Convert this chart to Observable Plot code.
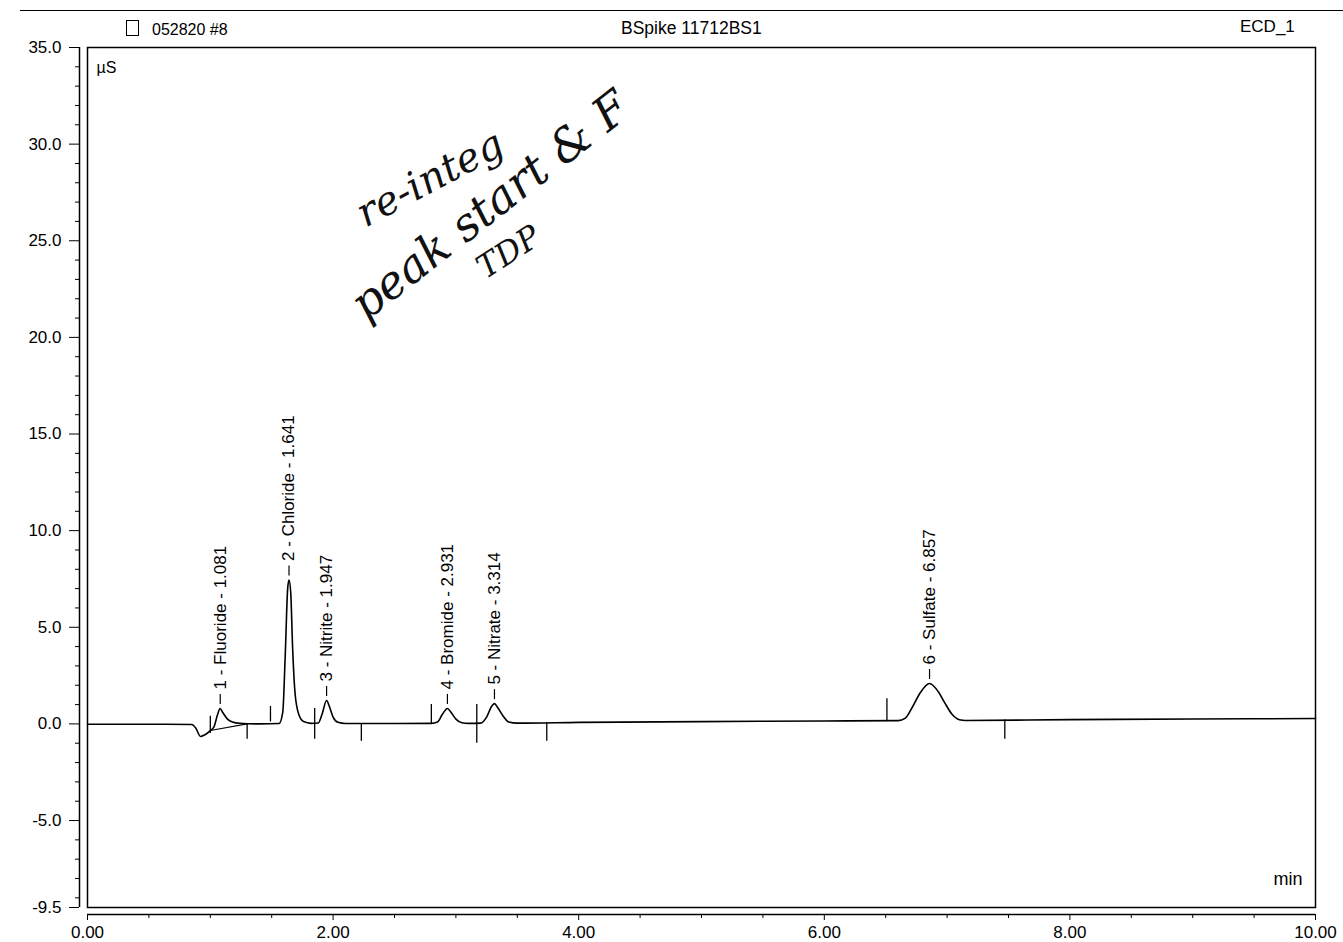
<!DOCTYPE html>
<html>
<head>
<meta charset="utf-8">
<script src="https://cdn.jsdelivr.net/npm/d3@7"></script>
<script src="https://cdn.jsdelivr.net/npm/@observablehq/plot@0.6"></script>
<style>
  html, body { margin: 0; padding: 0; background: #fff; }
  #wrap { position: relative; width: 1343px; height: 942px; overflow: hidden; font-family: "Liberation Sans", Arial, sans-serif; }
  #wrap svg { overflow: visible; display: block; }
  .hdr { position: absolute; font-size: 17px; color: #000; white-space: nowrap; line-height: 1; }
</style>
</head>
<body>
<div id="wrap">
  <div id="chart"></div>
  <div style="position:absolute;left:20px;right:0;top:10px;border-top:1.5px solid #000;"></div>
  <div style="position:absolute;left:126px;top:20px;width:11px;height:14px;border:1px solid #000;"></div>
  <div class="hdr" style="left:152px;top:22px;font-size:16px;">052820 #8</div>
  <div class="hdr" style="left:621px;top:20px;font-size:17.5px;">BSpike 11712BS1</div>
  <div class="hdr" style="left:1240px;top:18px;">ECD_1</div>
</div>
<script>
// ---- data ----
const traceTime  = [0.00, 0.50, 0.85, 0.88, 0.92, 0.96, 1.00, 1.03, 1.06, 1.08, 1.10, 1.14, 1.18, 1.24, 1.40,
                    1.56, 1.59, 1.61, 1.63, 1.641, 1.655, 1.67, 1.69, 1.72, 1.76, 1.82,
                    1.88, 1.91, 1.947, 1.97, 2.00, 2.04, 2.10,
                    2.80, 2.85, 2.89, 2.931, 2.96, 3.00, 3.05, 3.10,
                    3.20, 3.25, 3.29, 3.314, 3.34, 3.38, 3.43, 3.50,
                    4.00, 5.00, 6.00, 6.60, 6.66, 6.72, 6.78, 6.857, 6.93, 6.98, 7.04, 7.10, 7.15,
                    8.00, 9.00, 10.00];
const traceValue = [-0.02, -0.02, -0.03, -0.20, -0.65, -0.55, -0.35, -0.15, 0.50, 0.80, 0.60, 0.25, 0.10, 0.03, 0.00,
                    0.02, 0.60, 3.50, 7.00, 7.45, 6.80, 4.00, 1.60, 0.50, 0.12, 0.03,
                    0.05, 0.50, 1.21, 0.90, 0.35, 0.08, 0.02,
                    0.03, 0.10, 0.50, 0.80, 0.60, 0.25, 0.06, 0.03,
                    0.04, 0.35, 0.90, 1.05, 0.85, 0.45, 0.10, 0.04,
                    0.08, 0.12, 0.15, 0.17, 0.30, 0.90, 1.60, 2.09, 1.65, 1.10, 0.50, 0.22, 0.18,
                    0.22, 0.25, 0.28];

// fluoride drop-line integration baseline
const integTime  = [1.00, 1.30];
const integValue = [-0.34, 0.00];

// peak delimiter marks (time, low, high)
const delimTime = [1.00, 1.30, 1.49, 1.85, 2.23, 2.80, 3.17, 3.74, 6.51, 7.47];
const delimLow  = [-0.50, -0.80, 0.10, -0.80, -0.90, 0.00, -1.00, -0.90, 0.15, -0.80];
const delimHigh = [0.40, 0.00, 0.90, 0.80, 0.00, 1.00, 1.00, 0.05, 1.30, 0.20];

// peaks
const peakNum    = [1, 2, 3, 4, 5, 6];
const peakName   = ["Fluoride", "Chloride", "Nitrite", "Bromide", "Nitrate", "Sulfate"];
const peakTime   = [1.081, 1.641, 1.947, 2.931, 3.314, 6.857];
const peakHeight = [0.80, 7.45, 1.21, 0.80, 1.05, 2.09];

// handwritten note
const noteText   = ["re-integ", "peak start & F", "TDP"];
const noteTime   = [2.79, 3.28, 3.43];
const noteValue  = [28.2, 26.8, 24.4];
const noteAngle  = [-28, -38, -33];
const noteSize   = [40, 46, 32];

// axes
const xTicks = [0, 2, 4, 6, 8, 10];
const xMinor = [0.5, 1, 1.5, 2.5, 3, 3.5, 4.5, 5, 5.5, 6.5, 7, 7.5, 8.5, 9, 9.5];
const yTicks = [35, 30, 25, 20, 15, 10, 5, 0, -5, -9.5];
const yMinor = d3.range(-9, 35, 1).filter(d => d % 5 !== 0);

// ---- tables ----
const trace = traceTime.map((t, i) => ({t, v: traceValue[i]}));
const integ = integTime.map((t, i) => ({t, v: integValue[i]}));
const delims = delimTime.map((t, i) => ({t, lo: delimLow[i], hi: delimHigh[i]}));
const peaks = peakNum.map((n, i) => ({
  t: peakTime[i], h: peakHeight[i],
  label: `${n} - ${peakName[i]} - ${peakTime[i].toFixed(3)}`
}));
const notes = noteText.map((s, i) => ({s, t: noteTime[i], v: noteValue[i], a: noteAngle[i], f: noteSize[i]}));

const chart = Plot.plot({
  width: 1343,
  height: 942,
  marginLeft: 87,
  marginRight: 28,
  marginTop: 47,
  marginBottom: 35,
  style: {fontFamily: "'Liberation Sans', Arial, sans-serif", color: "#000", background: "#fff"},
  x: {domain: [0, 10]},
  y: {domain: [-9.5, 35]},
  marks: [
    Plot.frame({stroke: "#000", strokeWidth: 1.5}),
    // offset axis lines
    Plot.ruleY([-9.5], {dy: 7, stroke: "#000", strokeWidth: 1.5}),
    Plot.ruleX([0], {dx: -8, stroke: "#000", strokeWidth: 1.5}),
    // minor ticks
    Plot.ruleX(xMinor, {x: d => d, y1: -9.5, y2: -9.5, dy: 7, insetBottom: -4, stroke: "#000"}),
    Plot.ruleY(yMinor, {y: d => d, x1: 0, x2: 0, dx: -8, insetLeft: -4, stroke: "#000"}),
    // x axis
    Plot.axisX(xTicks, {anchor: "bottom", dy: 7, tickSize: 6, tickPadding: 5, fontSize: 17,
      tickFormat: d => d.toFixed(2), label: null, stroke: "#000"}),
    // y axis
    Plot.axisY(yTicks, {anchor: "left", dx: -8, tickSize: 10, tickPadding: 8, fontSize: 17,
      tickFormat: d => d.toFixed(1), label: null, stroke: "#000"}),
    // unit labels
    Plot.text(["µS"], {frameAnchor: "top-left", dx: 9, dy: 14, fontSize: 16, fill: "#000"}),
    Plot.text(["min"], {frameAnchor: "bottom-right", dx: -13, dy: -23, fontSize: 18, fill: "#000"}),
    // handwritten note
    Plot.text(notes, {x: "t", y: "v", text: "s", rotate: "a", fontSize: "f", fontStyle: "italic",
      fontFamily: "'DejaVu Serif', serif", fill: "#111"}),
    // integration baseline + delimiters
    Plot.line(integ, {x: "t", y: "v", stroke: "#000", strokeWidth: 1.2}),
    Plot.ruleX(delims, {x: "t", y1: "lo", y2: "hi", stroke: "#000", strokeWidth: 1.3}),
    // chromatogram
    Plot.line(trace, {x: "t", y: "v", stroke: "#000", strokeWidth: 1.6, curve: "monotone-x"}),
    // peak label leaders and labels
    Plot.ruleX(peaks, {x: "t", y1: "h", y2: "h", dy: -9, insetTop: -5, insetBottom: -5, stroke: "#000", strokeWidth: 1.2}),
    Plot.text(peaks, {x: "t", y: "h", text: "label", rotate: -90, textAnchor: "start", dy: -19,
      fontSize: 17, fill: "#000"})
  ]
});
document.getElementById("chart").appendChild(chart);
</script>
</body>
</html>
